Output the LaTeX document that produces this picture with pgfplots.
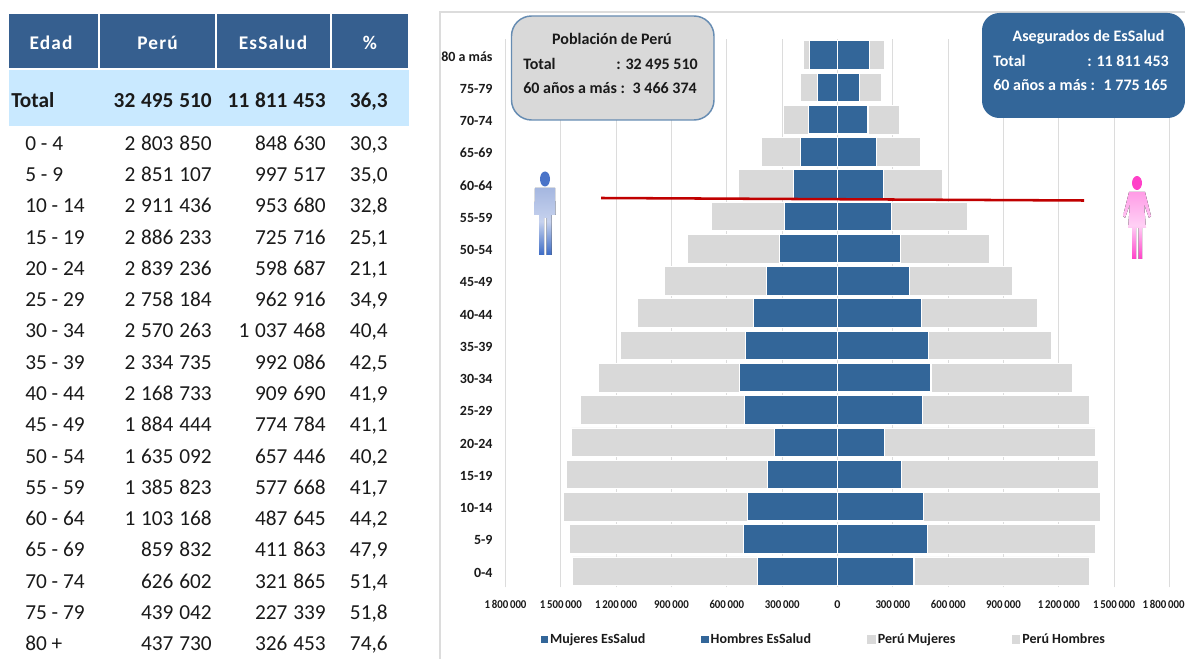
\documentclass[border=0pt]{standalone}
\usepackage{fontspec}
\setmainfont{Carlito}
\usepackage{pgfplots}
\usepackage{pgfplotstable}
\pgfplotsset{compat=1.18}

\definecolor{essalud}{HTML}{336699}
\definecolor{headblue}{HTML}{365F8F}
\definecolor{totalband}{HTML}{C9E9FF}
\definecolor{peru}{HTML}{D9D9D9}
\definecolor{gridc}{HTML}{DCDCDC}
\definecolor{redline}{HTML}{C00000}
\definecolor{txt}{HTML}{1A1A1A}
\definecolor{mantop}{HTML}{A5B7E0}
\definecolor{manmid}{HTML}{C6D2EE}
\definecolor{manbot}{HTML}{3C6BC5}
\definecolor{manhead}{HTML}{4A74C8}
\definecolor{womtop}{HTML}{FF9CE6}
\definecolor{wommid}{HTML}{FFD0F5}
\definecolor{wombot}{HTML}{FF40C8}
\newcommand\tsp{\hspace{0.27em}}
\newcommand\lab[1]{\scalebox{0.9}[1]{#1}}

% idx muj hom (poblacion), essmuj esshom (asegurados)
\pgfplotstableread{
idx perumuj peruhom essmuj esshom
0  -1437000 1366850 -434000 414630
1  -1453000 1398107 -510000 487517
2  -1486000 1425436 -488000 465680
3  -1470000 1416233 -380000 345716
4  -1442000 1397236 -342000 256687
5  -1394000 1364184 -504000 458916
6  -1296000 1274263 -531000 506468
7  -1177000 1157735 -499000 493086
8  -1085000 1083733 -456000 453690
9  -938000  946444  -385000 389784
10 -813000  822092  -315000 342446
11 -683000  702823  -287000 290668
12 -537000  566168  -239000 248645
13 -412000  447832  -201000 210863
14 -293000  333602  -157000 164865
15 -201000  238042  -108000 119339
16 -184000  253730  -152000 174453
}\pira

\begin{document}
\begin{tikzpicture}[x=0.75pt,y=-0.75pt,every node/.style={inner sep=0pt,text=txt}]
\path[use as bounding box] (0,0) rectangle (1185,659);

% marco del grafico
\draw[gridc,line width=0.9pt] (440,659) -- (440,12) -- (1185,12);

\begin{axis}[
    at={(505.5*0.75pt,-587.3*0.75pt)},
    anchor=south west,
    scale only axis,
    width=498pt,
    height=411.2pt,
    xbar,
    bar shift=0pt,
    bar width=21.4pt,
    xmin=-1800000,
    xmax=1800000,
    ymin=-0.5,
    ymax=16.5,
    scaled x ticks=false,
    xtick={-1800000,-1500000,-1200000,-900000,-600000,-300000,0,300000,600000,900000,1200000,1500000,1800000},
    xticklabels={\lab{1\,800\,000},\lab{1\,500\,000},\lab{1\,200\,000},\lab{900\,000},\lab{600\,000},\lab{300\,000},0,\lab{300\,000},\lab{600\,000},\lab{900\,000},\lab{1\,200\,000},\lab{1\,500\,000},\lab{1\,800\,000}\hspace*{9pt}},
    ytick={0,...,16},
    yticklabels={0-4,5-9,10-14,15-19,20-24,25-29,30-34,35-39,40-44,45-49,50-54,55-59,60-64,65-69,70-74,75-79,80 a más},
    xmajorgrids,
    grid style={gridc,line width=0.8pt},
    axis line style={draw=none},
    major tick length=0pt,
    tick label style={font=\fontsize{10.5}{12}\selectfont\bfseries,text=txt},
    xticklabel style={font=\fontsize{9}{11}\selectfont\bfseries,yshift=-9.5pt},
    yticklabel style={xshift=-9.5pt,yshift=-1pt},
    legend columns=4,
    legend cell align=left,
    legend style={
        at={(0.48,-0.095)},anchor=center,draw=none,fill=none,
        font=\fontsize{10.5}{12}\selectfont\bfseries,
        /tikz/every even column/.append style={column sep=40pt},
    },
    area legend,
]
\addplot[fill=peru,draw=white,line width=0.6pt,forget plot] table[x=perumuj,y=idx] {\pira};
\addplot[fill=peru,draw=white,line width=0.6pt,forget plot] table[x=peruhom,y=idx] {\pira};
\addplot[fill=essalud,draw=white,line width=0.9pt,forget plot] table[x=essmuj,y=idx] {\pira};
\addplot[fill=essalud,draw=white,line width=0.9pt,forget plot] table[x=esshom,y=idx] {\pira};
\addlegendimage{legend image code/.code={\fill[essalud] (0.12cm,-0.07cm) rectangle (0.28cm,0.07cm);}}
\addlegendentry{Mujeres EsSalud}
\addlegendimage{legend image code/.code={\fill[essalud] (0.12cm,-0.07cm) rectangle (0.28cm,0.07cm);}}
\addlegendentry{Hombres EsSalud}
\addlegendimage{legend image code/.code={\fill[peru] (0.08cm,-0.1cm) rectangle (0.28cm,0.1cm);}}
\addlegendentry{Perú Mujeres}
\addlegendimage{legend image code/.code={\fill[peru] (0.08cm,-0.1cm) rectangle (0.28cm,0.1cm);}}
\addlegendentry{Perú Hombres}
\end{axis}

% linea de 60 anos
\draw[redline,line width=1.9pt] (601,198) -- (1084,200.5);

% figuras
\fill[top color=mantop,bottom color=manbot,middle color=manmid]
  (535,188) -- (555,188) -- (555.5,215) -- (551.5,215) -- (551.5,255) -- (546.5,255) -- (546.5,218)
  -- (544,218) -- (544,255) -- (539,255) -- (539,215) -- (534.5,215) -- cycle;
\fill[manhead] (545,179) ellipse (5 and 7.5);
\fill[top color=womtop,bottom color=wombot,middle color=wommid]
  (1129,192) -- (1145,192) -- (1151,216) -- (1149,218) -- (1144,204) -- (1146,228) -- (1142,228) -- (1142,259)
  -- (1138.5,259) -- (1138.5,228) -- (1136,228) -- (1136,259) -- (1132,259) -- (1132,228) -- (1128,228)
  -- (1130,204) -- (1125,218) -- (1123,216) -- cycle;
\fill[wombot] (1137,183) ellipse (5 and 7);

% cuadros de texto
\draw[fill=peru,draw=essalud!75!white,line width=1.1pt,rounded corners=15pt] (511.5,16) rectangle (714,120);
\begin{scope}[every node/.append style={font=\fontsize{12}{14}\selectfont\bfseries}]
\node[anchor=center] at (612,39) {Población de Perú};
\node[anchor=west] at (523,64) {Total};
\node[anchor=east] at (698,64) {: 32 495 510};
\node[anchor=west] at (523,88) {60 años a más :};
\node[anchor=east] at (697,88) {3 466 374};
\end{scope}

\fill[essalud,rounded corners=13pt] (982,13) rectangle (1185,118);
\begin{scope}[every node/.append style={text=white,font=\fontsize{12}{14}\selectfont\bfseries}]
\node[anchor=center] at (1088.5,37) {Asegurados de EsSalud};
\node[anchor=west] at (993,61) {Total};
\node[anchor=east] at (1169,61) {: 11 811 453};
\node[anchor=west] at (993,85) {60 años a más :};
\node[anchor=east] at (1168,85) {1 775 165};
\end{scope}

% tabla
\fill[headblue] (9,14) rectangle (98,68);
\fill[headblue] (100,14) rectangle (214.5,68);
\fill[headblue] (216.5,14) rectangle (329.5,68);
\fill[headblue] (331.5,14) rectangle (407.5,68);
\fill[totalband] (9,70) rectangle (409,126);
\begin{scope}[every node/.append style={text=white,font=\fontsize{14.5}{16}\selectfont\bfseries\addfontfeature{LetterSpace=6},anchor=center}]
\node at (51,43) {Edad};
\node at (157.5,43) {Perú};
\node at (273,43) {EsSalud};
\node at (370,43) {\%};
\end{scope}
\begin{scope}[every node/.append style={font=\fontsize{16}{18}\selectfont\bfseries}]
\node[anchor=base west] at (11,107.5) {Total};
\node[anchor=base east] at (212,107.5) {32\tsp 495\tsp 510};
\node[anchor=base east] at (326,107.5) {11\tsp 811\tsp 453};
\node[anchor=base east] at (388,107.5) {36,3};
\end{scope}
\begin{scope}[every node/.append style={font=\fontsize{16}{18}\selectfont}]
\foreach \e/\p/\s/\q [count=\i from 0] in {
  0 - 4/2\tsp 803\tsp 850/848\tsp 630/{30,3},
  5 - 9/2\tsp 851\tsp 107/997\tsp 517/{35,0},
  10 - 14/2\tsp 911\tsp 436/953\tsp 680/{32,8},
  15 - 19/2\tsp 886\tsp 233/725\tsp 716/{25,1},
  20 - 24/2\tsp 839\tsp 236/598\tsp 687/{21,1},
  25 - 29/2\tsp 758\tsp 184/962\tsp 916/{34,9},
  30 - 34/2\tsp 570\tsp 263/1\tsp 037\tsp 468/{40,4},
  35 - 39/2\tsp 334\tsp 735/992\tsp 086/{42,5},
  40 - 44/2\tsp 168\tsp 733/909\tsp 690/{41,9},
  45 - 49/1\tsp 884\tsp 444/774\tsp 784/{41,1},
  50 - 54/1\tsp 635\tsp 092/657\tsp 446/{40,2},
  55 - 59/1\tsp 385\tsp 823/577\tsp 668/{41,7},
  60 - 64/1\tsp 103\tsp 168/487\tsp 645/{44,2},
  65 - 69/859\tsp 832/411\tsp 863/{47,9},
  70 - 74/626\tsp 602/321\tsp 865/{51,4},
  75 - 79/439\tsp 042/227\tsp 339/{51,8},
  80 +/437\tsp 730/326\tsp 453/{74,6}}
{
  \pgfmathsetmacro{\yy}{150.5+31.25*\i}
  \node[anchor=base west] at (25,\yy) {\e};
  \node[anchor=base east] at (212,\yy) {\p};
  \node[anchor=base east] at (326,\yy) {\s};
  \node[anchor=base east] at (388,\yy) {\q};
}
\end{scope}
\end{tikzpicture}
\end{document}
